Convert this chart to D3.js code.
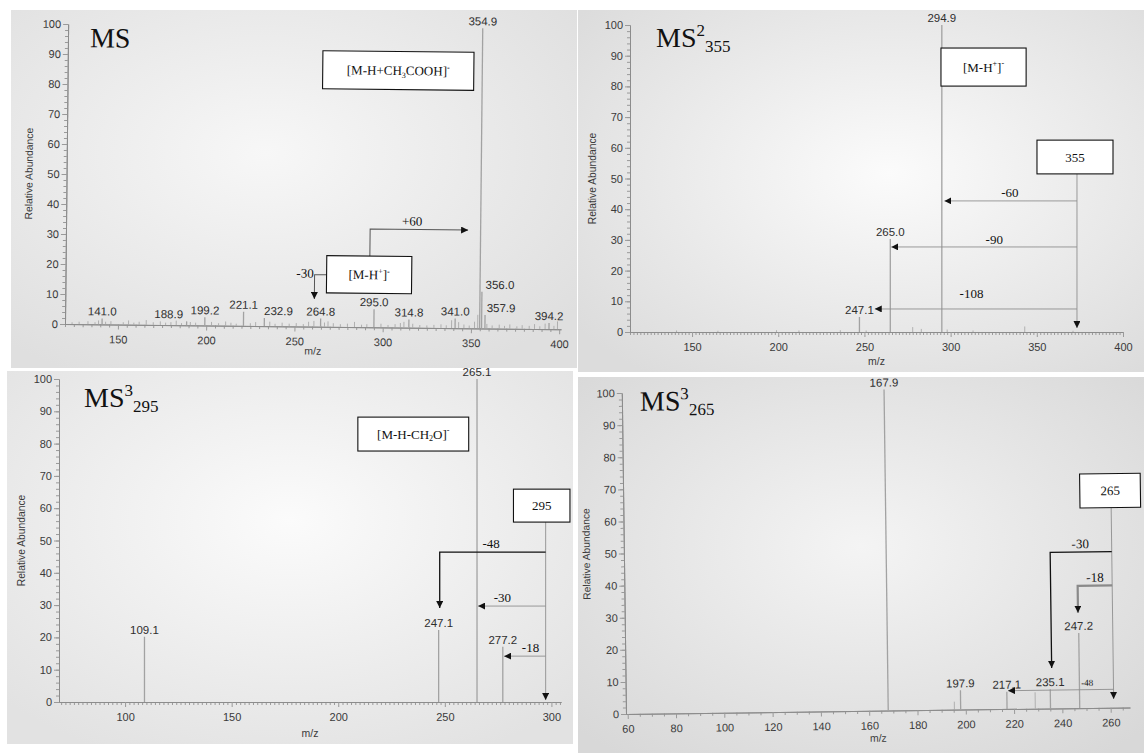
<!DOCTYPE html>
<html>
<head>
<meta charset="utf-8">
<script src="https://cdn.jsdelivr.net/npm/d3@7"></script>
<style>
  body { margin: 0; background: #fff; }
  svg { display: block; }
</style>
</head>
<body>
<svg id="fig" width="1144" height="753"></svg>
<script>
// --- Spectra (m/z, relative abundance) ------------------------------
const ms1Peaks = [[141.0, 2.0], [188.9, 1.3], [199.2, 2.7], [221.1, 4.7], [232.9, 2.7], [264.8, 2.7],
  [295.0, 6.0], [314.8, 2.7], [341.0, 3.2], [354.9, 100], [356.0, 12.2], [357.9, 4.5], [394.2, 2.0]];
const ms1Minor = [[124, 0.6], [128, 0.8], [133, 1.0], [137, 0.7], [139, 1.3], [143, 0.9], [146, 1.1],
  [153, 0.8], [156, 1.4], [159, 0.7], [162, 1.0], [166, 1.6], [170, 0.9], [174, 1.2], [177, 0.8],
  [180, 1.0], [183, 1.5], [186, 0.7], [191, 1.1], [194, 0.9], [203, 1.2], [207, 0.8], [211, 1.4],
  [214, 1.0], [217, 0.7], [225, 0.9], [228, 1.3], [236, 1.5], [239, 0.8], [243, 1.2], [247, 0.9],
  [251, 1.1], [255, 0.8], [258, 1.6], [261, 1.9], [267, 1.4], [269, 1.8], [272, 1.2], [276, 0.9],
  [280, 1.1], [284, 1.7], [288, 0.8], [291, 1.0], [299, 1.2], [303, 0.8], [307, 1.1], [310, 1.5],
  [312, 1.9], [317, 1.3], [321, 0.9], [325, 0.8], [329, 1.0], [333, 1.2], [336, 0.9], [339, 2.6],
  [343, 2.0], [346, 1.2], [349, 0.9], [352, 2.2], [353.8, 4.5], [359, 1.5], [362, 1.0], [366, 1.3],
  [369, 0.9], [372, 1.4], [376, 0.8], [379, 1.2], [383, 1.0], [386, 1.6], [389, 0.9], [392, 1.8],
  [397, 1.1], [399, 2.6]];
const ms2Peaks = [[247.1, 4.9], [265.0, 30.3], [294.9, 100]];
const ms2Minor = [[141, 0.5], [165, 0.4], [199, 0.6], [212, 0.5], [236, 0.6], [251, 0.5],
  [278, 1.6], [283, 1.0], [298, 0.8], [313, 0.5], [343, 1.8], [371, 0.4]];
const ms3aPeaks = [[109.1, 20.2], [247.1, 22.3], [265.1, 100], [277.2, 17.1]];
const ms3aMinor = [];
const ms3bPeaks = [[167.9, 100], [197.9, 6.0], [217.1, 5.4], [235.1, 6.0], [247.2, 23.4]];
const ms3bMinor = [[195.3, 2.5], [228.8, 5.1]];

// --- Tick labels -----------------------------------------------------
const yTicks = d3.range(0, 101, 10);
const ms1XTicks = [150, 200, 250, 300, 350, 400];
const ms2XTicks = [150, 200, 250, 300, 350, 400];
const ms3aXTicks = [100, 150, 200, 250, 300];
const ms3bXTicks = [60, 80, 100, 120, 140, 160, 180, 200, 220, 240, 260];

// --- Titles: [main, superscript, subscript] -------------------------
const ms1Title = ['MS'];
const ms2Title = ['MS', '2', '355'];
const ms3aTitle = ['MS', '3', '295'];
const ms3bTitle = ['MS', '3', '265'];

// --- Annotations, in data space (m/z, abundance) -------------------
const ms1Boxes = [
  { m: [264.5, 350.1], a: [79.3, 92.0], parts: [['[M-H+CH'], ['3', 'sub'], ['COOH]'], ['-', 'sup']] },
  { m: [267.9, 316.1], a: [11.3, 23.7], parts: [['[M-H'], ['+', 'sup'], [']'], ['-', 'sup']] },
];
const ms1Arrows = [
  { pts: [[292.3, 23.7], [292.3, 32.7], [347.8, 32.7]], kind: 'plain' },
  { pts: [[267.9, 17.3], [261.1, 17.3], [261.1, 9.2]], kind: 'plain' },
];
const ms1Notes = [
  { m: 316.1, a: 34.0, text: '+60' },
  { m: 255.7, a: 16.3, text: '-30' },
];

const ms2Boxes = [
  { m: [294.4, 343.8], a: [80.1, 92.5], parts: [['[M-H'], ['+', 'sup'], [']'], ['-', 'sup']] },
  { m: [350.1, 394.2], a: [51.5, 62.5], parts: [['355']] },
];
const ms2Arrows = [
  { pts: [[373.3, 51.5], [373.3, 1.3]], kind: 'thin' },
  { pts: [[373.3, 42.7], [296.4, 42.7]], kind: 'thin' },
  { pts: [[373.3, 27.7], [265.6, 27.7]], kind: 'thin' },
  { pts: [[373.3, 7.5], [256.0, 7.5]], kind: 'thin' },
];
const ms2Notes = [
  { m: 334.4, a: 44.0, text: '-60' },
  { m: 325.3, a: 28.6, text: '-90' },
  { m: 312.1, a: 11.1, text: '-108' },
];

const ms3aBoxes = [
  { m: [209.2, 261.2], a: [77.7, 88.2], parts: [['[M-H-CH'], ['2', 'sub'], ['O]'], ['-', 'sup']] },
  { m: [282.2, 308.7], a: [55.7, 65.9], parts: [['295']] },
];
const ms3aArrows = [
  { pts: [[297.3, 55.7], [297.3, 0.6]], kind: 'thin' },
  { pts: [[297.3, 46.4], [247.6, 46.4], [247.6, 29.1]], kind: 'bold' },
  { pts: [[297.3, 29.7], [265.6, 29.7]], kind: 'thin' },
  { pts: [[297.3, 14.2], [277.8, 14.2]], kind: 'thin' },
];
const ms3aNotes = [
  { m: 271.7, a: 47.7, text: '-48' },
  { m: 277.0, a: 31.0, text: '-30' },
  { m: 290.2, a: 15.5, text: '-18' },
];

const ms3bBoxes = [
  { m: [248.4, 273.5], a: [62.3, 72.9], parts: [['265']] },
];
const ms3bArrows = [
  { pts: [[261.3, 62.3], [261.3, 2.7]], kind: 'thin' },
  { pts: [[261.3, 48.6], [235.8, 48.6], [235.8, 12.6]], kind: 'bold' },
  { pts: [[261.3, 38.1], [247.0, 38.1], [247.0, 29.7]], kind: 'grey' },
  { pts: [[261.3, 5.7], [217.6, 5.7]], kind: 'thin' },
];
const ms3bNotes = [
  { m: 248.3, a: 49.8, text: '-30' },
  { m: 254.2, a: 39.3, text: '-18' },
  { m: 250.4, a: 6.9, text: '-48', small: true },
];

// --- Panel layout (the four photographed spectra) -------------------
const panels = [
  { photo: [11, 10, 566, 358], glow: ['45%', '40%'], grad: ['#f7f7f7', '#dfdfdf'],
    xDomain: [120, 401], xRange: [65, 561], yRange: [324, 24], minorStep: 5,
    titleAt: [87, 47], mzDy: 28, rotate: 0.6,
    peaks: ms1Peaks, minor: ms1Minor, ticks: ms1XTicks, title: ms1Title,
    boxes: ms1Boxes, arrows: ms1Arrows, notes: ms1Notes },
  { photo: [578, 10, 566, 362], glow: ['55%', '45%'], grad: ['#fbfbfb', '#dcdcdc'],
    xDomain: [114, 400], xRange: [630, 1123], yRange: [332, 25], minorStep: 2,
    titleAt: [656, 47], mzDy: 33, rotate: 0,
    peaks: ms2Peaks, minor: ms2Minor, ticks: ms2XTicks, title: ms2Title,
    boxes: ms2Boxes, arrows: ms2Arrows, notes: ms2Notes },
  { photo: [7, 371, 566, 373], glow: ['50%', '40%'], grad: ['#fbfbfb', '#e2e2e2'],
    xDomain: [69, 304.5], xRange: [59, 561], yRange: [702, 379], minorStep: 2,
    titleAt: [84, 407], mzDy: 35, rotate: 0,
    peaks: ms3aPeaks, minor: ms3aMinor, ticks: ms3aXTicks, title: ms3aTitle,
    boxes: ms3aBoxes, arrows: ms3aArrows, notes: ms3aNotes },
  { photo: [578, 377, 566, 376], glow: ['50%', '45%'], grad: ['#f4f4f4', '#d8d8d8'],
    xDomain: [59.3, 268], xRange: [626, 1130], yRange: [714, 393], minorStep: 5,
    titleAt: [644, 411], mzDy: 31, rotate: -0.75,
    peaks: ms3bPeaks, minor: ms3bMinor, ticks: ms3bXTicks, title: ms3bTitle,
    boxes: ms3bBoxes, arrows: ms3bArrows, notes: ms3bNotes },
];

// some peak labels sit beside their line in the original
const labelShift = { '0:188.9': -18, '0:232.9': 14, '0:356.0': 18, '0:357.9': 16 };

const SANS = '"Liberation Sans", Arial, sans-serif';
const SERIF = '"Liberation Serif", "Times New Roman", serif';

const arrowStyle = {
  plain: { stroke: '#555', width: 1 },
  thin: { stroke: '#8f8f8f', width: 0.9 },
  bold: { stroke: '#111', width: 1.3 },
  grey: { stroke: '#8a8a8a', width: 2.2 },
};

const svg = d3.select('#fig');
const defs = svg.append('defs');

defs.append('marker')
  .attr('id', 'tri')
  .attr('viewBox', '0 0 10 10')
  .attr('refX', 10)
  .attr('refY', 5)
  .attr('markerWidth', 7)
  .attr('markerHeight', 7)
  .attr('markerUnits', 'userSpaceOnUse')
  .attr('orient', 'auto')
  .append('path')
  .attr('d', 'M0,0 L10,5 L0,10 z')
  .attr('fill', '#111');

// text with sub/superscript parts, shifted with dy so text-anchor still works
function rich(textSel, parts, size) {
  let shift = 0;
  parts.forEach(([t, kind]) => {
    const target = kind === 'sup' ? -0.42 * size : kind === 'sub' ? 0.22 * size : 0;
    textSel.append('tspan')
      .attr('dy', target - shift)
      .attr('font-size', kind ? size * 0.62 : size)
      .text(t);
    shift = target;
  });
}

function styleAxis(sel) {
  sel.select('path.domain').attr('stroke', '#8c8c8c').attr('stroke-width', 1);
  sel.selectAll('.tick line').attr('stroke', '#9a9a9a');
  sel.selectAll('.tick text')
    .attr('font-family', SANS)
    .attr('font-size', 11)
    .attr('fill', '#3a3a3a');
}

panels.forEach((p, i) => {
  // photographed paper background
  const grad = defs.append('radialGradient')
    .attr('id', 'bg' + i)
    .attr('cx', p.glow[0]).attr('cy', p.glow[1]).attr('r', '70%');
  grad.append('stop').attr('offset', '0%').attr('stop-color', p.grad[0]);
  grad.append('stop').attr('offset', '100%').attr('stop-color', p.grad[1]);

  svg.append('rect')
    .attr('x', p.photo[0]).attr('y', p.photo[1])
    .attr('width', p.photo[2]).attr('height', p.photo[3])
    .attr('fill', `url(#bg${i})`);

  const x = d3.scaleLinear().domain(p.xDomain).range(p.xRange);
  const y = d3.scaleLinear().domain([0, 100]).range(p.yRange);
  const x0 = p.xRange[0];
  const y0 = p.yRange[0];

  const g = svg.append('g')
    .attr('transform', `rotate(${p.rotate},${x0},${y0})`);

  // axes: minor ticks first, then labelled ticks
  const minorX = d3.range(Math.ceil(p.xDomain[0] / p.minorStep) * p.minorStep, p.xDomain[1], p.minorStep)
    .filter(v => !p.ticks.includes(v));

  g.append('g')
    .attr('transform', `translate(0,${y0})`)
    .call(d3.axisBottom(x).tickValues(minorX).tickSize(3).tickFormat('').tickSizeOuter(0))
    .call(styleAxis);

  g.append('g')
    .attr('transform', `translate(0,${y0})`)
    .call(d3.axisBottom(x).tickValues(p.ticks).tickSize(5).tickPadding(6)
      .tickFormat(d3.format('d')).tickSizeOuter(0))
    .call(styleAxis);

  g.append('g')
    .attr('transform', `translate(${x0},0)`)
    .call(d3.axisLeft(y).tickValues(d3.range(0, 101, 2)).tickSize(3).tickFormat('').tickSizeOuter(0))
    .call(styleAxis);

  g.append('g')
    .attr('transform', `translate(${x0},0)`)
    .call(d3.axisLeft(y).tickValues(yTicks).tickSize(5).tickPadding(2).tickSizeOuter(0))
    .call(styleAxis);

  // axis titles
  g.append('text')
    .attr('x', (p.xRange[0] + p.xRange[1]) / 2)
    .attr('y', y0 + p.mzDy)
    .attr('text-anchor', 'middle')
    .attr('font-family', SANS)
    .attr('font-size', 10.5)
    .attr('fill', '#3a3a3a')
    .text('m/z');

  g.append('text')
    .attr('transform', `translate(${x0 - 34},${(p.yRange[0] + p.yRange[1]) / 2}) rotate(-90)`)
    .attr('text-anchor', 'middle')
    .attr('font-family', SANS)
    .attr('font-size', 10.3)
    .attr('fill', '#3a3a3a')
    .text('Relative Abundance');

  // baseline noise
  g.selectAll('line.minor-peak')
    .data(p.minor)
    .join('line')
    .attr('class', 'minor-peak')
    .attr('x1', d => x(d[0])).attr('x2', d => x(d[0]))
    .attr('y1', y(0)).attr('y2', d => y(d[1]))
    .attr('stroke', '#a3a3a3')
    .attr('stroke-width', 0.8);

  // labelled peaks
  g.selectAll('line.peak')
    .data(p.peaks)
    .join('line')
    .attr('class', 'peak')
    .attr('x1', d => x(d[0])).attr('x2', d => x(d[0]))
    .attr('y1', y(0)).attr('y2', d => y(d[1]))
    .attr('stroke', '#a2a2a2')
    .attr('stroke-width', 1.3);

  g.selectAll('text.peak-label')
    .data(p.peaks)
    .join('text')
    .attr('class', 'peak-label')
    .attr('x', d => x(d[0]) + (labelShift[i + ':' + d[0].toFixed(1)] || 0))
    .attr('y', d => y(d[1]) - 3)
    .attr('text-anchor', 'middle')
    .attr('font-family', SANS)
    .attr('font-size', 11.5)
    .attr('fill', '#2e2e2e')
    .text(d => d[0].toFixed(1));

  // fragmentation arrows
  const line = d3.line().x(d => x(d[0])).y(d => y(d[1]));
  g.selectAll('path.arrow')
    .data(p.arrows)
    .join('path')
    .attr('class', 'arrow')
    .attr('d', d => line(d.pts))
    .attr('fill', 'none')
    .attr('stroke', d => arrowStyle[d.kind].stroke)
    .attr('stroke-width', d => arrowStyle[d.kind].width)
    .attr('marker-end', 'url(#tri)');

  g.selectAll('text.note')
    .data(p.notes)
    .join('text')
    .attr('class', 'note')
    .attr('x', d => x(d.m))
    .attr('y', d => y(d.a))
    .attr('text-anchor', 'middle')
    .attr('font-family', SERIF)
    .attr('font-size', d => d.small ? 9 : 13)
    .attr('fill', '#111')
    .text(d => d.text);

  // ion boxes
  const box = g.selectAll('g.box')
    .data(p.boxes)
    .join('g')
    .attr('class', 'box');

  box.append('rect')
    .attr('x', d => x(d.m[0]))
    .attr('y', d => y(d.a[1]))
    .attr('width', d => x(d.m[1]) - x(d.m[0]))
    .attr('height', d => y(d.a[0]) - y(d.a[1]))
    .attr('fill', '#fff')
    .attr('stroke', '#111')
    .attr('stroke-width', 1.1);

  box.append('text')
    .attr('x', d => (x(d.m[0]) + x(d.m[1])) / 2)
    .attr('y', d => (y(d.a[0]) + y(d.a[1])) / 2 + 4.5)
    .attr('text-anchor', 'middle')
    .attr('font-family', SERIF)
    .attr('fill', '#111')
    .each(function (d) { rich(d3.select(this), d.parts, 13); });

  // panel title, e.g. MS^2_355
  const title = g.append('text')
    .attr('x', p.titleAt[0])
    .attr('y', p.titleAt[1])
    .attr('font-family', SERIF)
    .attr('font-size', 28)
    .attr('fill', '#111');
  title.append('tspan').text(p.title[0]);
  if (p.title[1]) {
    title.append('tspan').attr('dy', -11).attr('font-size', 17).text(p.title[1]);
    title.append('tspan').attr('dy', 16).attr('font-size', 17).text(p.title[2]);
  }
});
</script>
</body>
</html>
